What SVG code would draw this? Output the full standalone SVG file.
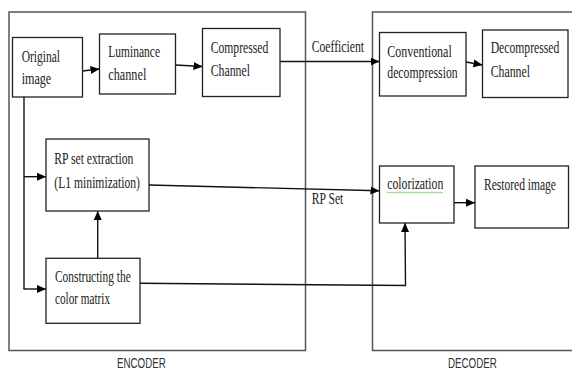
<svg xmlns="http://www.w3.org/2000/svg" width="572" height="372" viewBox="0 0 572 372">
<defs>
<marker id="ah" markerUnits="userSpaceOnUse" markerWidth="10" markerHeight="10" viewBox="0 0 10 10" refX="9" refY="5" orient="auto">
<path d="M0,1 L9,5 L0,9 Z" fill="#000"/>
</marker>
<style>
.frame{fill:none;stroke:#555;stroke-width:1.5}
.box{fill:#fff;stroke:#222;stroke-width:1.3}
.t{font-family:"Liberation Serif","Times New Roman",serif;font-size:17px;fill:#222}
.lbl{font-family:"Liberation Sans",Arial,sans-serif;font-size:15px;fill:#333}
.c{fill:none;stroke:#111;stroke-width:1.4}
.ca{fill:none;stroke:#111;stroke-width:1.4;marker-end:url(#ah)}
</style>
</defs>
<rect width="572" height="372" fill="#fff"/>
<g id="encoder-frame">
<rect class="frame" x="9" y="12" width="296.5" height="338.5"/>
<text class="lbl" transform="translate(117,367.5) scale(0.66,1)" textLength="74" lengthAdjust="spacingAndGlyphs">ENCODER</text>
</g>
<g id="decoder-frame">
<path class="frame" d="M580,12 H372.5 V350.5 H580"/>
<text class="lbl" transform="translate(448,367.5) scale(0.66,1)" textLength="74" lengthAdjust="spacingAndGlyphs">DECODER</text>
</g>
<g id="connectors">
<line class="ca" x1="82.5" y1="71" x2="99.5" y2="69"/>
<line class="ca" x1="175.5" y1="65" x2="202.5" y2="66.5"/>
<line class="ca" x1="280" y1="61.5" x2="379.5" y2="61.5"/>
<line class="ca" x1="466" y1="62" x2="482.5" y2="65"/>
<path class="c" d="M24,97 V289"/>
<line class="ca" x1="24" y1="176.7" x2="46" y2="176.7"/>
<line class="ca" x1="23.5" y1="289" x2="46" y2="289"/>
<line class="ca" x1="97.7" y1="258.3" x2="97.7" y2="211"/>
<line class="ca" x1="149" y1="185" x2="379.5" y2="190.8"/>
<path class="ca" d="M140,283.3 L405.5,285.5 L405,223"/>
<line class="ca" x1="454" y1="202.7" x2="475" y2="202.7"/>
<text class="t" transform="translate(311.7,52) scale(0.62,1)" textLength="84.4" lengthAdjust="spacingAndGlyphs">Coefficient</text>
<text class="t" transform="translate(311.7,204) scale(0.62,1)" textLength="51" lengthAdjust="spacingAndGlyphs">RP Set</text>
</g>
<g id="original-image">
<rect class="box" x="12.5" y="37.5" width="70" height="59.5"/>
<text class="t" transform="translate(21.7,62) scale(0.62,1)" textLength="61.8" lengthAdjust="spacingAndGlyphs">Original</text>
<text class="t" transform="translate(21.7,84) scale(0.62,1)" textLength="47.6" lengthAdjust="spacingAndGlyphs">image</text>
</g>
<g id="luminance-channel">
<rect class="box" x="99.5" y="34" width="76" height="60"/>
<text class="t" transform="translate(108.3,57.3) scale(0.62,1)" textLength="83.4" lengthAdjust="spacingAndGlyphs">Luminance</text>
<text class="t" transform="translate(108.3,79.5) scale(0.62,1)" textLength="61.3" lengthAdjust="spacingAndGlyphs">channel</text>
</g>
<g id="compressed-channel">
<rect class="box" x="202.5" y="28.5" width="77.5" height="68"/>
<text class="t" transform="translate(210.7,53.3) scale(0.62,1)" textLength="92.9" lengthAdjust="spacingAndGlyphs">Compressed</text>
<text class="t" transform="translate(210.7,76) scale(0.62,1)" textLength="63.4" lengthAdjust="spacingAndGlyphs">Channel</text>
</g>
<g id="conventional-decompression">
<rect class="box" x="379.5" y="32.5" width="86.5" height="63.5"/>
<text class="t" transform="translate(387.3,56.7) scale(0.62,1)" textLength="103.9" lengthAdjust="spacingAndGlyphs">Conventional</text>
<text class="t" transform="translate(387.3,78) scale(0.62,1)" textLength="113.5" lengthAdjust="spacingAndGlyphs">decompression</text>
</g>
<g id="decompressed-channel">
<rect class="box" x="482.5" y="30" width="85.5" height="67.5"/>
<text class="t" transform="translate(490.7,53.3) scale(0.62,1)" textLength="110.6" lengthAdjust="spacingAndGlyphs">Decompressed</text>
<text class="t" transform="translate(490.7,76.5) scale(0.62,1)" textLength="63.4" lengthAdjust="spacingAndGlyphs">Channel</text>
</g>
<g id="rp-set-extraction">
<rect class="box" x="46" y="139" width="103" height="72"/>
<text class="t" transform="translate(54.3,164.3) scale(0.62,1)" textLength="127.4" lengthAdjust="spacingAndGlyphs">RP set extraction</text>
<text class="t" transform="translate(54.3,188.3) scale(0.62,1)" textLength="138.2" lengthAdjust="spacingAndGlyphs">(L1 minimization)</text>
</g>
<g id="colorization">
<rect class="box" x="379.5" y="166" width="74.5" height="57"/>
<text class="t" transform="translate(387.3,189.3) scale(0.62,1)" textLength="90.3" lengthAdjust="spacingAndGlyphs">colorization</text>
<path d="M387,192.5 q1,-1 2,0 t2,0 t2,0 t2,0 t2,0 t2,0 t2,0 t2,0 t2,0 t2,0 t2,0 t2,0 t2,0 t2,0 t2,0 t2,0 t2,0 t2,0 t2,0 t2,0 t2,0 t2,0 t2,0 t2,0 t2,0 t2,0 t2,0 t2,0" fill="none" stroke="#7cc46a" stroke-width="0.9"/>
</g>
<g id="restored-image">
<rect class="box" x="475" y="166" width="93.5" height="62"/>
<text class="t" transform="translate(484,190) scale(0.62,1)" textLength="116.1" lengthAdjust="spacingAndGlyphs">Restored image</text>
</g>
<g id="constructing-color-matrix">
<rect class="box" x="46" y="258.3" width="94" height="65"/>
<text class="t" transform="translate(55,281.7) scale(0.62,1)" textLength="122.1" lengthAdjust="spacingAndGlyphs">Constructing the</text>
<text class="t" transform="translate(55,304.3) scale(0.62,1)" textLength="88.7" lengthAdjust="spacingAndGlyphs">color matrix</text>
</g>
</svg>
